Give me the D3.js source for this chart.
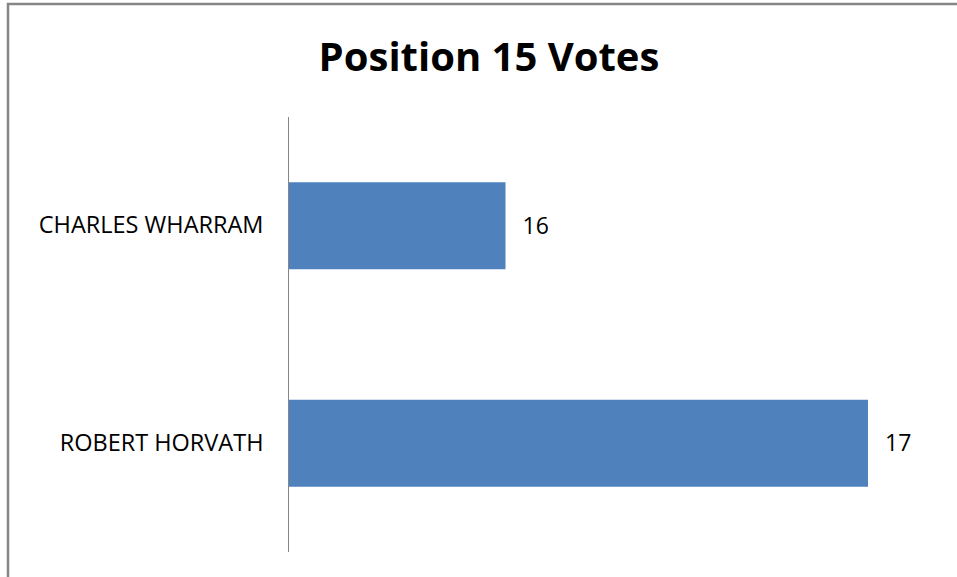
<!DOCTYPE html>
<html lang="en">
<head>
<meta charset="UTF-8">
<title>Position 15 Votes</title>
<script src="https://d3js.org/d3.v7.min.js"></script>
<style>
  body { margin: 0; background: #fff; }
</style>
</head>
<body>
<svg width="957" height="577"></svg>
<script>
// data
var names = ["CHARLES WHARRAM", "ROBERT HORVATH"];
var votes = [16, 17];
var axisRange = [15.4, 17];

var svg = d3.select("svg");
var font = "'Open Sans', sans-serif";

// chart frame (right and bottom edges run off the picture)
svg.append("rect")
    .attr("x", 8).attr("y", 4)
    .attr("width", 980).attr("height", 600)
    .attr("fill", "#fff")
    .attr("stroke", "#868686")
    .attr("stroke-width", 2.5);

svg.append("text")
    .attr("x", 489).attr("y", 71)
    .attr("text-anchor", "middle")
    .attr("font-family", font)
    .attr("font-weight", "bold")
    .attr("font-size", "40px")
    .attr("fill", "#000")
    .text("Position 15 Votes");

var x = d3.scaleLinear().domain(axisRange).range([288, 868]);
var y = d3.scaleBand().domain(names).range([117, 552])
    .paddingInner(0.6).paddingOuter(0.3);

svg.selectAll(".bar")
    .data(names)
    .enter().append("rect")
    .attr("class", "bar")
    .attr("x", x(axisRange[0]))
    .attr("y", function(d) { return y(d); })
    .attr("width", function(d, i) { return x(votes[i]) - x(axisRange[0]); })
    .attr("height", y.bandwidth())
    .attr("fill", "#4f81bd");

// category axis
var yAxis = svg.append("g")
    .attr("transform", "translate(288.5,0)")
    .call(d3.axisLeft(y).tickSize(0).tickPadding(25));
yAxis.select(".domain").attr("stroke", "#868686").attr("d", "M0,117V552");
yAxis.selectAll("text")
    .attr("font-family", font)
    .attr("font-size", "23.5px")
    .attr("fill", "#000");

// value labels
svg.selectAll(".lbl")
    .data(names)
    .enter().append("text")
    .attr("class", "lbl")
    .attr("x", function(d, i) { return x(votes[i]) + 17; })
    .attr("y", function(d) { return y(d) + y.bandwidth() / 2; })
    .attr("dy", "0.35em")
    .attr("font-family", font)
    .attr("font-size", "23px")
    .attr("fill", "#000")
    .text(function(d, i) { return votes[i]; });
</script>
</body>
</html>
